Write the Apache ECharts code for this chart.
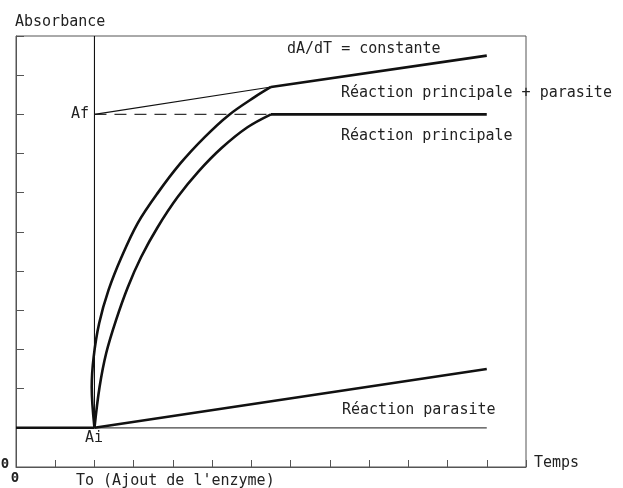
<!DOCTYPE html>
<html>
<head>
<meta charset="utf-8">
<script src="https://cdn.jsdelivr.net/npm/echarts@6/dist/echarts.min.js"></script>
<style>
html,body{margin:0;padding:0;background:#fff;}
#c{width:623px;height:488px;}
</style>
</head>
<body>
<div id="c"></div>
<script>
// Axis ranges
const xMax = 13;
const yMax = 11;
// Series data (x = temps units, y = absorbance units)
const baseline = [[0, 1], [2, 1]];
const aiReference = [[2, 1], [12, 1]];
const parasite = [[2, 1], [12, 2.5]];
const principalCurve = [[2, 1], [2.13, 2.04], [2.30, 2.91], [2.55, 3.75], [2.85, 4.59], [3.19, 5.36], [3.61, 6.12], [4.12, 6.89], [4.66, 7.55], [5.24, 8.14], [5.90, 8.67], [6.5, 9.0]];
const principalPlateau = [[6.5, 9], [12, 9]];
const totalCurve = [[2, 1], [1.93, 2.04], [1.98, 2.81], [2.12, 3.67], [2.36, 4.52], [2.69, 5.36], [3.10, 6.22], [3.61, 6.99], [4.20, 7.76], [4.81, 8.42], [5.42, 8.98], [6.08, 9.44], [6.5, 9.7]];
const totalLinear = [[6.5, 9.7], [12, 10.5]];
const slopeReference = [[2, 9], [6.5, 9.7]];
const afDashed = [[2, 9], [6.5, 9]];
const toLine = [[2, 1], [2, 11]];

const FONT = '"DejaVu Sans Mono", monospace';
const txt = (x, y, s, align, size, weight) => ({
  type: 'text', x: x, y: y, silent: true,
  style: { text: s, fill: '#222', font: (weight || 'normal') + ' ' + (size || 15) + 'px ' + FONT, textAlign: align || 'left', textVerticalAlign: 'middle' }
});

const thick = 2.6, thin = 1.1, ink = '#111';
const line = (data, w, extra) => Object.assign({
  type: 'line', data: data, symbol: 'none', silent: true,
  lineStyle: { color: ink, width: w }, z: 3
}, extra || {});

const chart = echarts.init(document.getElementById('c'), null, { renderer: 'canvas' });
chart.setOption({
  animation: false,
  backgroundColor: '#fff',
  grid: { left: 16, right: 97, top: 36, bottom: 21, show: true, borderColor: '#555', borderWidth: 1, outerBoundsMode: 'none' },
  xAxis: {
    type: 'value', min: 0, max: xMax, interval: 1,
    axisLine: { show: true, lineStyle: { color: '#555', width: 1 } },
    axisTick: { show: true, inside: true, length: 7, lineStyle: { color: '#555' } },
    axisLabel: { show: false }, splitLine: { show: false }
  },
  yAxis: {
    type: 'value', min: 0, max: yMax, interval: 1,
    axisLine: { show: true, lineStyle: { color: '#555', width: 1 } },
    axisTick: { show: true, inside: true, length: 8, lineStyle: { color: '#555' } },
    axisLabel: { show: false }, splitLine: { show: false }
  },
  series: [
    line(toLine, thin),
    line(aiReference, thin, { lineStyle: { color: '#444', width: 1.2 } }),
    line(afDashed, thin, { lineStyle: { color: '#333', width: 1.2, type: [12, 8] } }),
    line(slopeReference, thin),
    line(baseline, thick),
    line(parasite, thick),
    line(principalCurve, thick, { smooth: 0.35 }),
    line(principalPlateau, thick),
    line(totalCurve, thick, { smooth: 0.35 }),
    line(totalLinear, thick)
  ],
  graphic: [
    txt(15, 22, 'Absorbance'),
    txt(287, 49, 'dA/dT = constante'),
    txt(341, 93, 'Réaction principale + parasite'),
    txt(341, 136, 'Réaction principale'),
    txt(342, 410, 'Réaction parasite'),
    txt(89, 114, 'Af', 'right'),
    txt(94, 438, 'Ai', 'center'),
    txt(534, 463, 'Temps'),
    txt(76, 481, 'To (Ajout de l\'enzyme)'),
    txt(5, 464, '0', 'center', 14, 'bold'),
    txt(15, 478, '0', 'center', 14, 'bold')
  ]
});
</script>
</body>
</html>
